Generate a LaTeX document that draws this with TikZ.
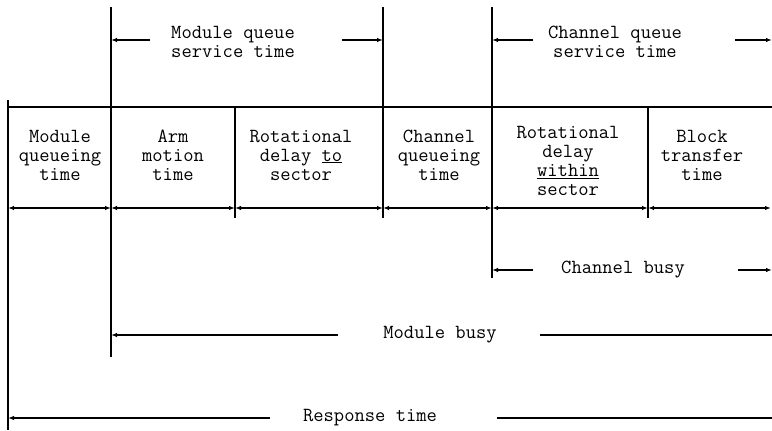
\documentclass[tikz,border=0pt]{standalone}
\usepackage{fontspec}
\usetikzlibrary{arrows.meta}
\begin{document}
\begin{tikzpicture}[x=1pt,y=-1pt,
  ln/.style={line width=1.8pt},
  dim/.style={line width=1.8pt,-{Latex[length=6pt,width=4.5pt]}},
  dd/.style={line width=1.8pt,{Latex[length=6pt,width=4.5pt]}-{Latex[length=6pt,width=4.5pt]}},
  lbl/.style={font=\ttfamily\fontsize{20}{19}\selectfont, align=center, inner sep=0pt}]
\useasboundingbox (0,0) rectangle (772,431);
% vertical line ends
\coordinate (a0) at (8,100);   \coordinate (a1) at (8,430);
\coordinate (b0) at (111,7);   \coordinate (b1) at (111,357);
\coordinate (c0) at (235,107); \coordinate (c1) at (235,218);
\coordinate (d0) at (383,7);   \coordinate (d1) at (383,218);
\coordinate (e0) at (492,7);   \coordinate (e1) at (492,278);
\coordinate (f0) at (648,107); \coordinate (f1) at (648,218);
\coordinate (t0) at (8,107);   \coordinate (t1) at (772,107);
% row arrow points
\coordinate (r0) at (8,208);   \coordinate (r1) at (111,208);
\coordinate (r2) at (235,208); \coordinate (r3) at (383,208);
\coordinate (r4) at (492,208); \coordinate (r5) at (648,208);
\coordinate (r6) at (771,208);
% verticals and top line
\foreach \p in {a,b,c,d,e,f} \draw[ln] (\p0) -- (\p1);
\draw[ln] (t0) -- (t1);
\foreach \i/\j in {r0/r1,r1/r2,r2/r3,r3/r4,r4/r5,r5/r6} \draw[dd] (\i) -- (\j);
% cell labels
\node[lbl] (m1) at (60,155) {Module\\queueing\\time};
\node[lbl] (m2) at (173,155) {Arm\\motion\\time};
\node[lbl] (m3) at (301,155) {Rotational\\delay \underline{to}\\sector};
\node[lbl] (m4) at (439,155) {Channel\\queueing\\time};
\node[lbl] (m5) at (568,161) {Rotational\\delay\\\underline{within}\\sector};
\node[lbl] (m6) at (702,155) {Block\\transfer\\time};
% top dimensions
\node[lbl] (mq) at (233,42) {Module queue\\service time};
\coordinate (mqa) at (150,40); \coordinate (mqb) at (342,40);
\draw[dim] (mqa) -- (b0 |- mqa);
\draw[dim] (mqb) -- (d0 |- mqb);
\node[lbl] (cq) at (615,42) {Channel queue\\service time};
\coordinate (cqa) at (533,40); \coordinate (cqb) at (735,40); \coordinate (cqe) at (772,40);
\draw[dim] (cqa) -- (e0 |- cqa);
\draw[dim] (cqb) -- (cqe);
% channel busy
\node[lbl] (cb) at (623,270) {Channel busy};
\coordinate (cba) at (533,270); \coordinate (cbb) at (738,270); \coordinate (cbe) at (772,270);
\draw[dim] (cba) -- (e1 |- cba);
\draw[dim] (cbb) -- (cbe);
% module busy
\node[lbl] (mb) at (440,335) {Module busy};
\coordinate (mba) at (338,335); \coordinate (mbb) at (540,335); \coordinate (mbe) at (772,335);
\draw[dim] (mba) -- (b1 |- mba);
\draw[ln] (mbb) -- (mbe);
% response time
\node[lbl] (rt) at (370,418) {Response time};
\coordinate (rta) at (270,418); \coordinate (rtb) at (497,418); \coordinate (rte) at (772,418);
\draw[dim] (rta) -- (a1 |- rta);
\draw[ln] (rtb) -- (rte);
\end{tikzpicture}
\end{document}
